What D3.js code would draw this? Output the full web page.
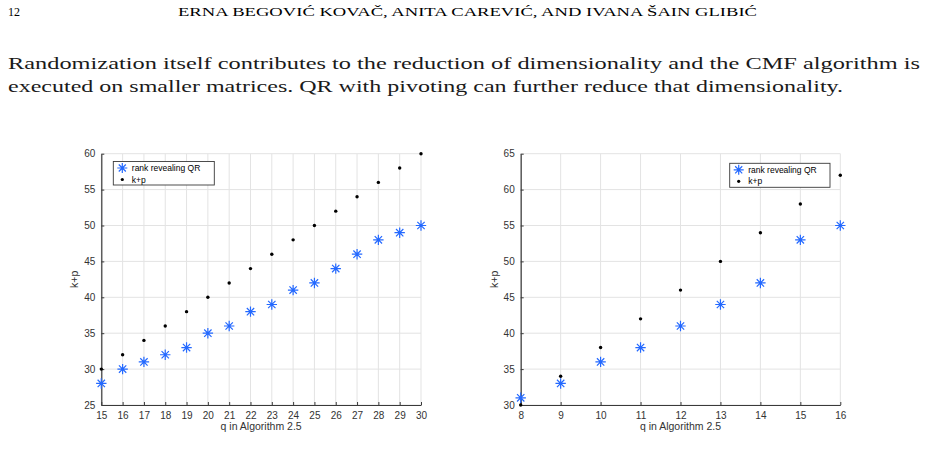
<!DOCTYPE html>
<html>
<head>
    <meta charset="utf-8">
    <script src="https://d3js.org/d3.v7.min.js"></script>
    <style>
        body { margin: 0; background: #fff; }
    </style>
</head>
<body>
    <div id="chart"></div>

    <script>
        // data: left plot (q = 15..30)
        const qLeft = [15, 16, 17, 18, 19, 20, 21, 22, 23, 24, 25, 26, 27, 28, 29, 30];
        const rrqrLeft = [28, 30, 31, 32, 33, 35, 36, 38, 39, 41, 42, 44, 46, 48, 49, 50];
        const kpLeft = [30, 32, 34, 36, 38, 40, 42, 44, 46, 48, 50, 52, 54, 56, 58, 60];
        const yTicksLeft = [25, 30, 35, 40, 45, 50, 55, 60];

        // data: right plot (q = 8..16)
        const qRight = [8, 9, 10, 11, 12, 13, 14, 15, 16];
        const rrqrRight = [31, 33, 36, 38, 41, 44, 47, 53, 55];
        const kpRight = [30, 34, 38, 42, 46, 50, 54, 58, 62];
        const yTicksRight = [30, 35, 40, 45, 50, 55, 60, 65];

        const seriesNames = ["rank revealing QR", "k+p"];
        const xLabel = "q in Algorithm 2.5";
        const yLabel = "k+p";

        const width = 928;
        const height = 466;
        const blue = "#2469ff";
        const axisColor = "#3a3a3a";
        const gridColor = "#e3e3e3";
        const font = "'Liberation Sans', Arial, sans-serif";
        const serif = "'Liberation Serif', 'DejaVu Serif', serif";

        const svg = d3.select("#chart")
            .append("svg")
            .attr("width", width)
            .attr("height", height);

        svg.append("rect").attr("width", width).attr("height", height).attr("fill", "#fff");

        // page header and paragraph
        svg.append("text").attr("x", 8).attr("y", 16)
            .attr("font-family", serif).attr("font-size", 12).text("12");
        svg.append("text").attr("x", 178).attr("y", 16)
            .attr("font-family", serif).attr("font-size", 11.5)
            .attr("textLength", 579).attr("lengthAdjust", "spacingAndGlyphs")
            .text("ERNA BEGOVIĆ KOVAČ, ANITA CAREVIĆ, AND IVANA ŠAIN GLIBIĆ");

        const para = [
            {text: "Randomization itself contributes to the reduction of dimensionality and the CMF algorithm is", y: 69, w: 912},
            {text: "executed on smaller matrices. QR with pivoting can further reduce that dimensionality.", y: 92, w: 835}
        ];
        para.forEach(p => {
            svg.append("text").attr("x", 8).attr("y", p.y)
                .attr("font-family", serif).attr("font-size", 17.5)
                .attr("fill", "#1a1a1a")
                .attr("textLength", p.w).attr("lengthAdjust", "spacingAndGlyphs")
                .text(p.text);
        });

        // asterisk marker path
        function asterisk(r) {
            const d = r * Math.SQRT1_2;
            return `M${-r},0L${r},0M0,${-r}L0,${r}M${-d},${-d}L${d},${d}M${-d},${d}L${d},${-d}`;
        }

        function drawPlot(cfg) {
            const x = d3.scaleLinear().domain(cfg.xDomain).range([cfg.left, cfg.right]);
            const y = d3.scaleLinear().domain(cfg.yDomain).range([cfg.bottom, cfg.top]);
            const g = svg.append("g");

            // grid
            g.selectAll(".gx").data(cfg.xs).enter().append("line")
                .attr("x1", d => x(d)).attr("x2", d => x(d))
                .attr("y1", cfg.top).attr("y2", cfg.bottom)
                .attr("stroke", gridColor).attr("stroke-width", 1);
            g.selectAll(".gy").data(cfg.yTicks).enter().append("line")
                .attr("x1", cfg.left).attr("x2", cfg.right)
                .attr("y1", d => y(d)).attr("y2", d => y(d))
                .attr("stroke", gridColor).attr("stroke-width", 1);

            // axes (ticks inward)
            const xAxis = g.append("g")
                .attr("transform", `translate(0,${cfg.bottom})`)
                .call(d3.axisBottom(x).tickValues(cfg.xs).tickFormat(d3.format("d"))
                    .tickSizeInner(-3).tickSizeOuter(0).tickPadding(7));
            const yAxis = g.append("g")
                .attr("transform", `translate(${cfg.left},0)`)
                .call(d3.axisLeft(y).tickValues(cfg.yTicks).tickFormat(d3.format("d"))
                    .tickSizeInner(-3).tickSizeOuter(0).tickPadding(6));
            [xAxis, yAxis].forEach(a => {
                a.select(".domain").attr("stroke", axisColor).attr("stroke-width", 1.2);
                a.selectAll(".tick line").attr("stroke", axisColor);
                a.selectAll("text").attr("fill", "#333")
                    .attr("font-family", font).attr("font-size", 10);
            });

            // axis titles
            g.append("text")
                .attr("x", (cfg.left + cfg.right) / 2).attr("y", cfg.bottom + 25)
                .attr("text-anchor", "middle").attr("fill", "#333")
                .attr("font-family", font).attr("font-size", 10.5).text(xLabel);
            g.append("text")
                .attr("transform", `translate(${cfg.left - 23},${(cfg.top + cfg.bottom) / 2}) rotate(-90)`)
                .attr("text-anchor", "middle").attr("fill", "#333")
                .attr("font-family", font).attr("font-size", 10.5).text(yLabel);

            // k+p dots
            g.selectAll(".dot").data(cfg.xs.map((q, i) => [q, cfg.kp[i]])).enter().append("circle")
                .attr("cx", d => x(d[0])).attr("cy", d => y(d[1]))
                .attr("r", 1.7).attr("fill", "#000");

            // rank revealing QR asterisks
            g.selectAll(".ast").data(cfg.xs.map((q, i) => [q, cfg.rrqr[i]])).enter().append("path")
                .attr("transform", d => `translate(${x(d[0])},${y(d[1])})`)
                .attr("d", asterisk(5.2))
                .attr("stroke", blue).attr("stroke-width", 1.2).attr("fill", "none");

            // legend
            const L = cfg.legend;
            const lg = g.append("g");
            lg.append("rect").attr("x", L.x).attr("y", L.y).attr("width", L.w).attr("height", L.h)
                .attr("fill", "#fff").attr("stroke", axisColor).attr("stroke-width", 0.9);
            lg.append("path")
                .attr("transform", `translate(${L.x + 9},${L.y + 6.5})`)
                .attr("d", asterisk(5))
                .attr("stroke", blue).attr("stroke-width", 1.2).attr("fill", "none");
            lg.append("circle").attr("cx", L.x + 9).attr("cy", L.y + 18).attr("r", 1.6).attr("fill", "#000");
            seriesNames.forEach((name, i) => {
                lg.append("text").attr("x", L.x + 18.5).attr("y", L.y + 6.5 + i * 11.5)
                    .attr("dominant-baseline", "central").attr("fill", "#000")
                    .attr("font-family", font).attr("font-size", 8.5).text(name);
            });
        }

        drawPlot({
            xs: qLeft, rrqr: rrqrLeft, kp: kpLeft, yTicks: yTicksLeft,
            xDomain: [15, 30], yDomain: [25, 60],
            left: 101.3, right: 421, top: 153.7, bottom: 405,
            legend: {x: 113.3, y: 161.5, w: 101, h: 23.5}
        });

        drawPlot({
            xs: qRight, rrqr: rrqrRight, kp: kpRight, yTicks: yTicksRight,
            xDomain: [8, 16], yDomain: [30, 65],
            left: 520.7, right: 840.3, top: 153.7, bottom: 405,
            legend: {x: 729.7, y: 163.3, w: 100.3, h: 24}
        });
    </script>
</body>
</html>
